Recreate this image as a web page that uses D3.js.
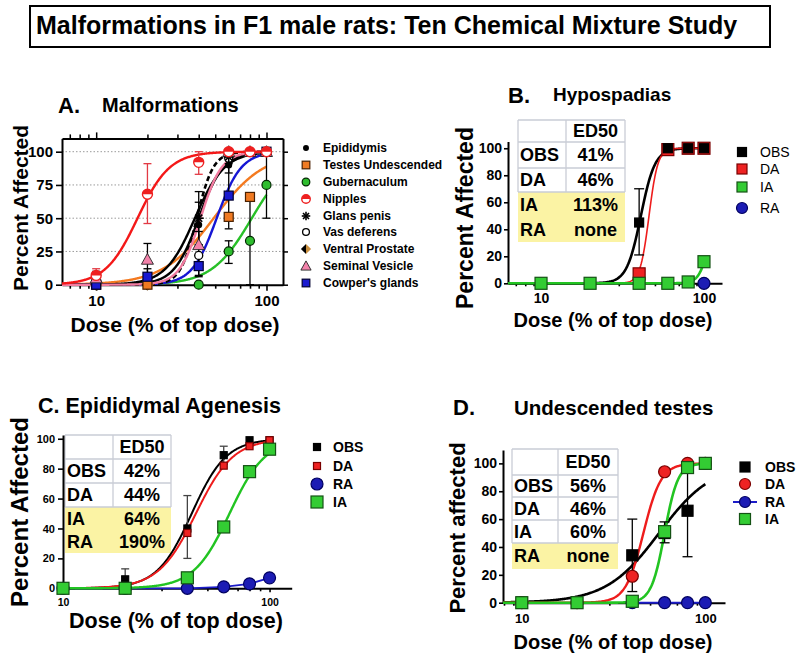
<!DOCTYPE html>
<html><head><meta charset="utf-8">
<script src="https://cdn.jsdelivr.net/npm/d3@7"></script>
<style>
body{margin:0;background:#fff}
text{font-family:"Liberation Sans",Arial,Helvetica,sans-serif}
</style>
</head><body>
<svg id="chart" width="800" height="657"></svg>
<script>
// ---------------- DATA ----------------
const doses = [10, 20, 40, 60, 80, 100];
const xMajorTicks = [10, 100];
const xMinorTicks = [7, 8, 9, 20, 30, 40, 50, 60, 70, 80, 90];

// Panel A: Malformations
const aNames = ["Epididymis","Testes Undescended","Gubernaculum","Nipples","Glans penis","Vas deferens","Ventral Prostate","Seminal Vesicle","Cowper's glands"];
const aEpididymis   = [0, 0, 45, 90, 100, 100];
const aTestes       = [0, 0, null, 51, 66, null];
const aGubernaculum = [null, null, 0, 25, 33, 75];
const aNipples      = [7, 68, 92, 100, 100, 100];
const aGlans        = [null, null, 50, 96, 100, 100];
const aVas          = [0, 0, 22, 95, 100, 100];
const aProstate     = [0, 0, null, null, null, 100];
const aSeminal      = [5, 19, 30, 100, 100, 100];
const aCowper       = [0, 6, 14, 67, null, 100];
const aEpididymisErr   = [null, null, [30, 62], [84, 97], null, null];
const aTestesErr       = [null, null, null, null, null, null];
const aGubernaculumErr = [null, null, null, [16, 33], [0, 66], [50, 100]];
const aNipplesErr      = [[2, 12], [46, 91], [83, 100], null, null, null];
const aGlansErr        = [null, null, [30, 70], null, null, null];
const aVasErr          = [null, null, [7, 40], null, null, null];
const aProstateErr     = [null, null, null, null, null, null];
const aSeminalErr      = [[0, 10], [7, 31], null, null, null, null];
const aCowperErr       = [null, [0, 12], [6, 22], [42, 91], null, null];
const aED50 = [40, 49, 82, 17.5, 39, 38, null, 41, 51];
const aHill = [6, 2.9, 3.7, 4.6, 9, 5, null, 7, 6];
const aYTicks = [0, 25, 50, 75, 100];

// Panel B: Hypospadias
const bNames = ["OBS", "DA", "IA", "RA"];
const bOBS = [0, 0, 45, 100, 100, 100];
const bDA  = [null, null, 7, 99, 100, 100];
const bIA  = [0, 0, 0, 0, 1, 16];
const bRA  = [null, null, null, null, null, 0];
const bOBSErr = [null, null, [21, 70], null, null, null];
const bED50 = [41, 46, 113, null];
const bHill = [10, 16, 13.6, null];
const bTable = [["", "ED50"], ["OBS", "41%"], ["DA", "46%"], ["IA", "113%"], ["RA", "none"]];
const bYTicks = [0, 20, 40, 60, 80, 100];

// Panel C: Epididymal Agenesis
const cNames = ["OBS", "DA", "RA", "IA"];
const cOBS = [0, 6, 40, 89, 99, 99];
const cDA  = [null, 0, 37, 82, 95, 99];
const cRA  = [0, 0, 0, 1, 3, 7];
const cIA  = [0, 0, 7, 41, 78, 93];
const cOBSErr = [null, [0, 13], [20, 62], [83, 95], null, null];
const cED50 = [42, 44, null, 64];
const cHill = [5.2, 4.8, null, 5];
const cTable = [["", "ED50"], ["OBS", "42%"], ["DA", "44%"], ["IA", "64%"], ["RA", "190%"]];
const cYTicks = [0, 20, 40, 60, 80, 100];

// Panel D: Undescended testes
const dNames = ["OBS", "DA", "RA", "IA"];
const dOBS = [0, 0, 34, 50, 66, null];
const dDA  = [0, 0, 19, 94, 100, 100];
const dRA  = [null, null, 0, 0, 0, 0];
const dIA  = [0, 0, 1, 51, 97, 100];
const dOBSErr = [null, null, [8, 60], [43, 58], [33, 100], null];
const dED50 = [56, 46, null, 60];
const dHill = [3, 9, null, 12];
const dTable = [["", "ED50"], ["OBS", "56%"], ["DA", "46%"], ["IA", "60%"], ["RA", "none"]];
const dYTicks = [0, 20, 40, 60, 80, 100];

// ---------------- DRAWING ----------------
const svg = d3.select("#chart");
const YEL = "#fbf3a4", GRID = "#c9ccd6";

function hillPts(xmin, xmax, ed, h) {
  const pts = [];
  for (let i = 0; i <= 300; i++) {
    const d = xmin * Math.pow(xmax / xmin, i / 300);
    pts.push([d, 100 / (1 + Math.pow(ed / d, h))]);
  }
  return pts;
}

function marker(g, type, cx, cy, s, fill, stroke) {
  if (type === "dot") {
    g.append("circle").attr("cx", cx).attr("cy", cy).attr("r", s).attr("fill", fill);
  } else if (type === "sq") {
    g.append("rect").attr("x", cx - s).attr("y", cy - s).attr("width", 2 * s).attr("height", 2 * s)
      .attr("fill", fill).attr("stroke", stroke || "none").attr("stroke-width", 1.2);
  } else if (type === "circ") {
    g.append("circle").attr("cx", cx).attr("cy", cy).attr("r", s).attr("fill", fill)
      .attr("stroke", stroke || "none").attr("stroke-width", 1.2);
  } else if (type === "open") {
    g.append("circle").attr("cx", cx).attr("cy", cy).attr("r", s).attr("fill", "#fff")
      .attr("stroke", "#000").attr("stroke-width", 1.3);
  } else if (type === "half") {
    g.append("circle").attr("cx", cx).attr("cy", cy).attr("r", s).attr("fill", "#fff")
      .attr("stroke", fill).attr("stroke-width", 1.4);
    g.append("path").attr("d", `M${cx - s},${cy} A${s},${s} 0 0 1 ${cx + s},${cy} Z`).attr("fill", fill);
  } else if (type === "star") {
    for (let k = 0; k < 4; k++) {
      const a = k * Math.PI / 4;
      g.append("line").attr("x1", cx - s * Math.cos(a)).attr("y1", cy - s * Math.sin(a))
        .attr("x2", cx + s * Math.cos(a)).attr("y2", cy + s * Math.sin(a))
        .attr("stroke", "#000").attr("stroke-width", 1.6);
    }
  } else if (type === "dia") {
    g.append("path").attr("d", `M${cx},${cy - s} L${cx - s},${cy} L${cx},${cy + s} Z`).attr("fill", "#000");
    g.append("path").attr("d", `M${cx},${cy - s} L${cx + s},${cy} L${cx},${cy + s} Z`).attr("fill", fill);
  } else if (type === "tri") {
    g.append("path").attr("d", `M${cx},${cy - s} L${cx + s},${cy + s * 0.8} L${cx - s},${cy + s * 0.8} Z`)
      .attr("fill", fill).attr("stroke", stroke || "#000").attr("stroke-width", 0.9);
  }
}

function setupAxes(cfg) {
  const x = d3.scaleLog().domain(cfg.xd).range(cfg.xr);
  const y = d3.scaleLinear().domain(cfg.yd).range(cfg.yr);
  const g = svg.append("g");
  const ya = g.append("g").attr("transform", `translate(${cfg.xr[0]},0)`)
    .call(d3.axisLeft(y).tickValues(cfg.yTicks).tickSize(cfg.yTick).tickSizeOuter(0).tickPadding(cfg.yPad));
  const xa = g.append("g").attr("transform", `translate(0,${cfg.yr[0]})`)
    .call(d3.axisBottom(x).tickValues(xMajorTicks).tickFormat(d3.format("d")).tickSize(cfg.xTick).tickSizeOuter(0).tickPadding(cfg.xPad));
  const xm = g.append("g").attr("transform", `translate(0,${cfg.yr[0]})`)
    .call(d3.axisBottom(x).tickValues(xMinorTicks.filter(v => v > cfg.xd[0] && v < cfg.xd[1])).tickFormat("").tickSize(cfg.xMinor).tickSizeOuter(0));
  xm.select(".domain").remove();
  [ya, xa, xm].forEach(a => {
    a.selectAll("path.domain").attr("stroke", "#000").attr("stroke-width", 2);
    a.selectAll(".tick line").attr("stroke", "#000").attr("stroke-width", 1.6);
  });
  ya.selectAll("text").attr("font-size", cfg.yFont).attr("font-weight", "bold").attr("fill", "#000")
    .style("font-family", '"Liberation Sans",Arial,sans-serif');
  xa.selectAll("text").attr("font-size", cfg.xFont).attr("font-weight", "bold").attr("fill", "#000")
    .style("font-family", '"Liberation Sans",Arial,sans-serif');
  return { x, y, g };
}

function title(parts) {
  parts.forEach(p => svg.append("text").attr("x", p[0]).attr("y", p[1]).attr("font-size", p[3])
    .attr("font-weight", "bold").attr("fill", "#000").text(p[2]));
}
function yTitle(txt, bx, cy, fs) {
  svg.append("text").attr("transform", `translate(${bx},${cy}) rotate(-90)`).attr("text-anchor", "middle")
    .attr("font-size", fs).attr("font-weight", "bold").text(txt);
}
function xTitle(txt, cx, by, fs) {
  svg.append("text").attr("x", cx).attr("y", by).attr("text-anchor", "middle")
    .attr("font-size", fs).attr("font-weight", "bold").text(txt);
}
function curve(P, xmin, ed, h, color, w, dash) {
  if (ed == null) return;
  const line = d3.line().x(d => P.x(d[0])).y(d => P.y(d[1]));
  P.g.append("path").attr("d", line(hillPts(xmin, 100, ed, h))).attr("fill", "none")
    .attr("stroke", color).attr("stroke-width", w).attr("stroke-dasharray", dash || null);
}
function polyline(P, vals, color, w) {
  const pts = doses.map((d, i) => [d, vals[i]]).filter(p => p[1] != null);
  const line = d3.line().x(d => P.x(d[0])).y(d => P.y(d[1]));
  P.g.append("path").attr("d", line(pts)).attr("fill", "none").attr("stroke", color).attr("stroke-width", w);
}
function errbars(P, errs, color, cap, w) {
  errs.forEach((e, i) => {
    if (!e) return;
    const cx = P.x(doses[i]);
    P.g.append("line").attr("x1", cx).attr("x2", cx).attr("y1", P.y(e[0])).attr("y2", P.y(e[1]))
      .attr("stroke", color).attr("stroke-width", w);
    e.forEach(v => P.g.append("line").attr("x1", cx - cap).attr("x2", cx + cap).attr("y1", P.y(v)).attr("y2", P.y(v))
      .attr("stroke", color).attr("stroke-width", w));
  });
}
function points(P, vals, type, s, fill, stroke) {
  vals.forEach((v, i) => { if (v != null) marker(P.g, type, P.x(doses[i]), P.y(v), s, fill, stroke); });
}
function table(rows, x0, xs, x1, ys, yellowFrom, fs) {
  const g = svg.append("g");
  for (let r = 0; r < rows.length; r++) {
    g.append("rect").attr("x", x0).attr("y", ys[r]).attr("width", x1 - x0).attr("height", ys[r + 1] - ys[r])
      .attr("fill", r >= yellowFrom ? YEL : "#fff");
  }
  for (let r = 0; r <= rows.length; r++) {
    if (r > yellowFrom) continue;
    g.append("line").attr("x1", x0).attr("x2", x1).attr("y1", ys[r]).attr("y2", ys[r]).attr("stroke", GRID).attr("stroke-width", 1.3);
  }
  const yEnd = ys[yellowFrom];
  [x0, xs, x1].forEach(xx => g.append("line").attr("x1", xx).attr("x2", xx).attr("y1", ys[0]).attr("y2", yEnd)
    .attr("stroke", GRID).attr("stroke-width", 1.3));
  rows.forEach((row, r) => {
    const cy = (ys[r] + ys[r + 1]) / 2 + fs * 0.36;
    g.append("text").attr("x", x0 + 2).attr("y", cy).attr("font-size", fs).attr("font-weight", "bold").text(row[0]);
    g.append("text").attr("x", (xs + x1) / 2).attr("y", cy).attr("text-anchor", "middle").attr("font-size", fs).attr("font-weight", "bold").text(row[1]);
  });
}
function legend(items, mx, tx, rows, fs, weight) {
  const g = svg.append("g");
  items.forEach((it, i) => {
    if (it.line) g.append("line").attr("x1", mx - 12).attr("x2", mx + 12).attr("y1", rows[i]).attr("y2", rows[i])
      .attr("stroke", it.line).attr("stroke-width", 2);
    marker(g, it.m, mx, rows[i], it.s, it.fill, it.stroke);
    g.append("text").attr("x", tx).attr("y", rows[i] + fs * 0.36).attr("font-size", fs)
      .attr("font-weight", weight).text(it.name);
  });
}

// ---- Main title ----
svg.append("rect").attr("x", 30).attr("y", 6).attr("width", 740).attr("height", 41)
  .attr("fill", "none").attr("stroke", "#000").attr("stroke-width", 2);
svg.append("text").attr("x", 36).attr("y", 34).attr("font-size", 25).attr("font-weight", "bold")
  .text("Malformations in F1 male rats: Ten Chemical Mixture Study");

// ================= Panel A =================
{
  const cfg = { xd: [6.3, 125], xr: [62, 283], yd: [0, 110], yr: [284.7, 138.4], yTicks: aYTicks,
    yTick: 6, yPad: 3, xTick: 6, xPad: 5, xMinor: 4, yFont: 15, xFont: 15 };
  const P = setupAxes(cfg);
  aYTicks.filter(v => v > 0).forEach(v => P.g.insert("line", ":first-child").attr("x1", cfg.xr[0]).attr("x2", cfg.xr[1])
    .attr("y1", P.y(v)).attr("y2", P.y(v)).attr("stroke", "#9a9a9a").attr("stroke-width", 1).attr("stroke-dasharray", "1.5,2"));
  const top = P.g.append("g").attr("transform", `translate(0,${cfg.yr[1]})`)
    .call(d3.axisTop(P.x).tickValues(xMajorTicks).tickFormat("").tickSize(6).tickSizeOuter(0));
  const topm = P.g.append("g").attr("transform", `translate(0,${cfg.yr[1]})`)
    .call(d3.axisTop(P.x).tickValues(xMinorTicks).tickFormat("").tickSize(4).tickSizeOuter(0));
  topm.select(".domain").remove();
  const right = P.g.append("g").attr("transform", `translate(${cfg.xr[1]},0)`)
    .call(d3.axisRight(P.y).tickValues(aYTicks).tickFormat("").tickSize(5).tickSizeOuter(0));
  [top, topm, right].forEach(a => {
    a.selectAll("path.domain").attr("stroke", "#000").attr("stroke-width", 2);
    a.selectAll(".tick line").attr("stroke", "#000").attr("stroke-width", 1.5);
  });
  const vals = [aEpididymis, aTestes, aGubernaculum, aNipples, aGlans, aVas, aProstate, aSeminal, aCowper];
  const errs = [aEpididymisErr, aTestesErr, aGubernaculumErr, aNipplesErr, aGlansErr, aVasErr, aProstateErr, aSeminalErr, aCowperErr];
  const sty = [
    { m: "dot", s: 3.5, fill: "#000", line: "#000" },
    { m: "sq", s: 4.5, fill: "#f07a22", stroke: "#4a2000", line: "#f47a20" },
    { m: "circ", s: 4.5, fill: "#2ebd2e", stroke: "#002800", line: "#28c028" },
    { m: "half", s: 5, fill: "#ee2020", line: "#f41818", err: "#e23a44" },
    { m: "star", s: 5, fill: "#000", line: "#000", dash: "5,3" },
    { m: "open", s: 4, fill: "#fff", line: "#000" },
    { m: "dia", s: 6, fill: "#c99040", line: null },
    { m: "tri", s: 6, fill: "#f282aa", stroke: "#222", line: "#f27ca0" },
    { m: "sq", s: 4.5, fill: "#1a1ad0", stroke: "#000030", line: "#1616d4" }
  ];
  const order = [2, 1, 8, 5, 0, 4, 7, 3];
  order.forEach(i => curve(P, cfg.xd[0], aED50[i], aHill[i], sty[i].line, i === 4 ? 2.6 : 2.4, sty[i].dash));
  [2, 1, 8, 0, 4, 5, 7, 3].forEach(i => errbars(P, errs[i], sty[i].err || "#000", 4, 1.3));
  [6, 5, 0, 4, 1, 2, 8, 7, 3].forEach(i => points(P, vals[i], sty[i].m, sty[i].s, sty[i].fill, sty[i].stroke));
  title([[58, 113, "A.", 22], [102, 112, "Malformations", 20]]);
  yTitle("Percent Affected", 28, 208, 21);
  xTitle("Dose (% of top dose)", 175, 332, 21);
  legend(aNames.map((n, i) => ({ name: n, m: sty[i].m, s: sty[i].s * 0.85, fill: sty[i].fill, stroke: sty[i].stroke })),
    306, 323, [148, 165, 182, 199, 216, 232, 249, 266, 283], 12, "bold");
}

// ================= Panel B =================
{
  table(bTable, 518, 566, 625, [120, 142, 168, 192, 217, 242], 3, 18);
  const cfg = { xd: [6.27, 129], xr: [508, 722], yd: [0, 105], yr: [283.3, 141.5], yTicks: bYTicks,
    yTick: 4, yPad: 2, xTick: 5, xPad: 5, xMinor: 3, yFont: 14, xFont: 14 };
  const P = setupAxes(cfg);
  curve(P, cfg.xd[0], bED50[0], bHill[0], "#000", 2.6);
  curve(P, cfg.xd[0], bED50[1], bHill[1], "#ee1c1c", 1.6);
  curve(P, cfg.xd[0], bED50[2], bHill[2], "#22c422", 2.6);
  errbars(P, bOBSErr, "#000", 5, 1.3);
  points(P, bDA, "sq", 6, "#ee2222", "#7a0000");
  points(P, bOBS, "sq", 4.5, "#000", "#000");
  points(P, bIA, "sq", 6, "#33cc33", "#145214");
  points(P, bRA, "circ", 6, "#1c1cb4", "#000060");
  title([[508, 103, "B.", 22], [553, 101, "Hypospadias", 19]]);
  yTitle("Percent Affected", 473, 218, 23);
  xTitle("Dose (% of top dose)", 613, 327, 20);
  legend([
    { name: "OBS", m: "sq", s: 4.5, fill: "#000", stroke: "#000" },
    { name: "DA", m: "sq", s: 5, fill: "#ee2222", stroke: "#7a0000" },
    { name: "IA", m: "sq", s: 5, fill: "#33cc33", stroke: "#145214" },
    { name: "RA", m: "circ", s: 5.5, fill: "#1c1cb4", stroke: "#000060" }
  ], 742, 760, [152, 169, 187, 208], 14, "normal");
}

// ================= Panel C =================
{
  table(cTable, 65, 113, 171, [435, 459, 483, 507, 530, 553], 3, 18);
  const cfg = { xd: [10, 128], xr: [63, 291.7], yd: [0, 102.5], yr: [588.3, 435], yTicks: cYTicks,
    yTick: 5, yPad: 3, xTick: 4, xPad: 6, xMinor: 3, yFont: 11, xFont: 10.5 };
  const P = setupAxes(cfg);
  polyline(P, cRA, "#1c1cc8", 1.8);
  curve(P, cfg.xd[0], cED50[0], cHill[0], "#000", 2);
  curve(P, cfg.xd[0], cED50[1], cHill[1], "#ee1c1c", 2);
  curve(P, cfg.xd[0], cED50[3], cHill[3], "#22c422", 2.4);
  errbars(P, cOBSErr, "#444", 4, 1.3);
  points(P, cRA, "circ", 6, "#1c1cb4", "#000060");
  points(P, cOBS, "sq", 3.5, "#000", "#000");
  points(P, cDA, "sq", 3.5, "#ee2222", "#7a0000");
  points(P, cIA, "sq", 6, "#33cc33", "#145214");
  title([[38, 413, "C. Epididymal Agenesis", 21.5]]);
  yTitle("Percent Affected", 28, 512, 24);
  xTitle("Dose (% of top dose)", 176, 628, 21.5);
  legend([
    { name: "OBS", m: "sq", s: 3.5, fill: "#000", stroke: "#000" },
    { name: "DA", m: "sq", s: 3.5, fill: "#ee2222", stroke: "#7a0000" },
    { name: "RA", m: "circ", s: 6, fill: "#1c1cb4", stroke: "#000060" },
    { name: "IA", m: "sq", s: 6, fill: "#33cc33", stroke: "#145214" }
  ], 317, 333, [447, 466, 484, 502], 14, "bold");
}

// ================= Panel D =================
{
  table(dTable, 512, 558, 618, [449, 475, 497, 520, 543, 569], 4, 18);
  const cfg = { xd: [7.9, 128], xr: [503, 725], yd: [0, 109.6], yr: [602.7, 450], yTicks: dYTicks,
    yTick: 4, yPad: 2, xTick: 5, xPad: 6, xMinor: 3, yFont: 14, xFont: 13 };
  const P = setupAxes(cfg);
  polyline(P, dRA, "#1c1cc8", 2);
  curve(P, cfg.xd[0], dED50[0], dHill[0], "#000", 2.6);
  curve(P, cfg.xd[0], dED50[1], dHill[1], "#ee1c1c", 2.4);
  curve(P, cfg.xd[0], dED50[3], dHill[3], "#22c422", 2.6);
  errbars(P, dOBSErr, "#000", 5, 1.3);
  points(P, dOBS, "sq", 5.5, "#000", "#000");
  points(P, dRA, "circ", 6, "#1c1cb4", "#000060");
  points(P, dDA, "circ", 6, "#ee2222", "#7a0000");
  points(P, dIA, "sq", 6, "#33cc33", "#145214");
  title([[453, 415, "D.", 22], [514, 415, "Undescended testes", 20.5]]);
  yTitle("Percent affected", 465, 528, 22);
  xTitle("Dose (% of top dose)", 613, 649, 20);
  legend([
    { name: "OBS", m: "sq", s: 5, fill: "#000", stroke: "#000" },
    { name: "DA", m: "circ", s: 5.5, fill: "#ee2222", stroke: "#7a0000" },
    { name: "RA", m: "circ", s: 5.5, fill: "#1c1cb4", stroke: "#000060", line: "#1c1cc8" },
    { name: "IA", m: "sq", s: 5.5, fill: "#33cc33", stroke: "#145214" }
  ], 745, 765, [467, 484, 502, 519], 14, "bold");
}
</script>
</body></html>
